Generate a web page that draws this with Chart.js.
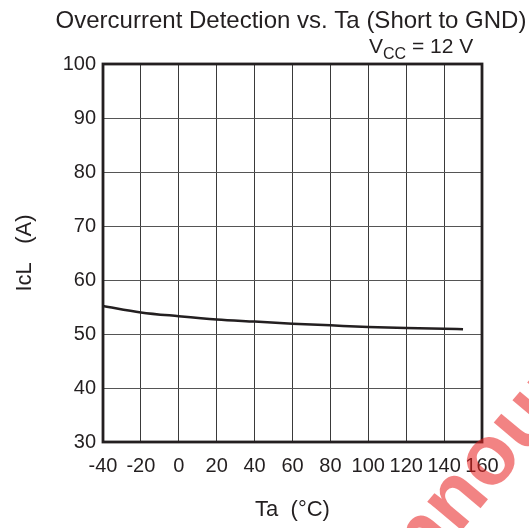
<!DOCTYPE html>
<html>
<head>
<meta charset="utf-8">
<script src="https://cdn.jsdelivr.net/npm/chart.js@4.4.1/dist/chart.umd.min.js"></script>
<style>
    html, body { margin: 0; padding: 0; background: #fff; }
    #wrap { width: 529px; height: 528px; position: relative; }
</style>
</head>
<body>
<div id="wrap"><canvas id="chart"></canvas></div>
<script>
const temps = [-40, -20, 0, 20, 40, 60, 80, 100, 120, 140, 150];
const currents = [55.2, 54.0, 53.3, 52.7, 52.3, 51.9, 51.6, 51.3, 51.1, 50.95, 50.9];
const xTicks = [-40, -20, 0, 20, 40, 60, 80, 100, 120, 140, 160];
const yTicks = [30, 40, 50, 60, 70, 80, 90, 100];

const FONT = '"Liberation Sans", Arial, Helvetica, sans-serif';

// title, Vcc note, frame and watermark
const decorPlugin = {
    id: 'decor',
    afterDraw(chart) {
        const ctx = chart.ctx;
        const a = chart.chartArea;
        ctx.save();

        ctx.strokeStyle = '#231f20';
        ctx.lineWidth = 2.8;
        ctx.strokeRect(a.left, a.top, a.right - a.left, a.bottom - a.top);

        ctx.fillStyle = '#231f20';
        ctx.textBaseline = 'alphabetic';
        ctx.textAlign = 'center';
        ctx.font = '24px ' + FONT;
        ctx.fillText('Overcurrent Detection vs. Ta (Short to GND)', 291, 28);

        // V_CC = 12 V
        ctx.textAlign = 'left';
        let x = 369;
        ctx.font = '21px ' + FONT;
        ctx.fillText('V', x, 53);
        x += ctx.measureText('V').width;
        ctx.font = '16px ' + FONT;
        ctx.fillText('CC', x, 59);
        x += ctx.measureText('CC').width;
        ctx.font = '21px ' + FONT;
        ctx.fillText(' = 12 V', x, 53);

        // watermark
        const ang = -50 * Math.PI / 180;
        const word = 'Announcement';
        ctx.font = 'bold 85px ' + FONT;
        const pre = ctx.measureText('An').width;
        const dx = Math.cos(ang), dy = Math.sin(ang);
        const bx = 458 - pre * dx, by = 535 - pre * dy;
        ctx.translate(bx, by);
        ctx.rotate(ang);
        ctx.fillStyle = 'rgba(232, 30, 30, 0.55)';
        ctx.textAlign = 'left';
        ctx.fillText(word, 0, 0);
        ctx.restore();
    }
};

const ctx = document.getElementById('chart').getContext('2d');
const chart = new Chart(ctx, {
    type: 'line',
    data: {
        datasets: [{
            data: temps.map((t, i) => ({ x: t, y: currents[i] })),
            borderColor: '#231f20',
            borderWidth: 2.5,
            pointRadius: 0,
            cubicInterpolationMode: 'monotone',
            fill: false
        }]
    },
    options: {
        responsive: true,
        maintainAspectRatio: false,
        animation: false,
        layout: { padding: { left: 0, top: 64, right: 47, bottom: 0 } },
        plugins: {
            legend: { display: false },
            tooltip: { enabled: false }
        },
        scales: {
            x: {
                type: 'linear',
                min: -40,
                max: 160,
                afterFit(scale) { scale.height = 86; },
                afterBuildTicks(scale) { scale.ticks = xTicks.map(v => ({ value: v })); },
                grid: { color: '#3a3a3a', lineWidth: 1, drawTicks: false },
                border: { display: false },
                ticks: {
                    color: '#231f20',
                    font: { family: FONT, size: 20 },
                    padding: 12,
                    maxRotation: 0,
                    autoSkip: false
                },
                title: {
                    display: true,
                    text: 'Ta  (°C)',
                    color: '#231f20',
                    font: { family: FONT, size: 22 },
                    padding: { top: 0, bottom: 5 }
                }
            },
            y: {
                type: 'linear',
                min: 30,
                max: 100,
                afterFit(scale) { scale.width = 103; },
                afterBuildTicks(scale) { scale.ticks = yTicks.map(v => ({ value: v })); },
                grid: { color: '#555', lineWidth: 1, drawTicks: false },
                border: { display: false },
                ticks: {
                    color: '#231f20',
                    font: { family: FONT, size: 20 },
                    padding: 7
                },
                title: {
                    display: true,
                    text: 'IcL   (A)',
                    color: '#231f20',
                    font: { family: FONT, size: 22 },
                    padding: { top: 12, bottom: 0 }
                }
            }
        }
    },
    plugins: [decorPlugin]
});
</script>
</body>
</html>
